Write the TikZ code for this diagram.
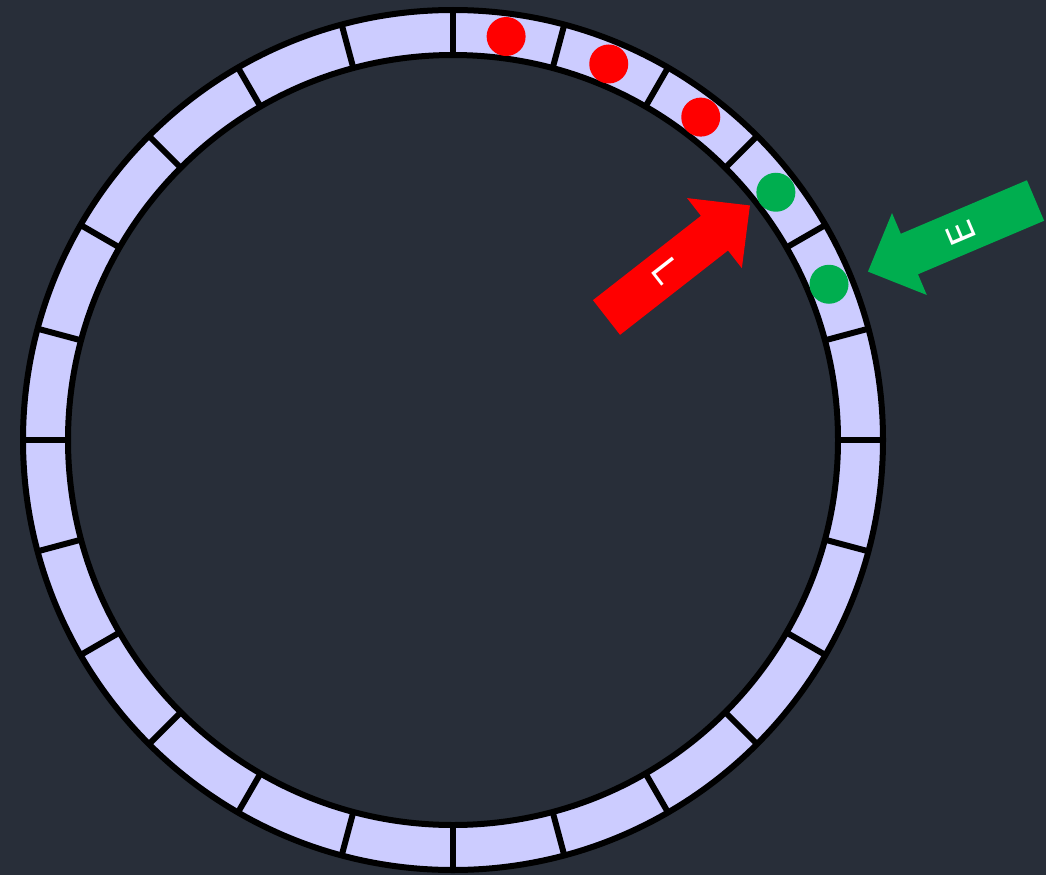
\documentclass[tikz,border=0pt]{standalone}
\usepackage{fontspec}
\setmainfont{DejaVu Sans}
\begin{document}
\begin{tikzpicture}[x=1pt,y=-1pt,
  ringfill/.style={fill={rgb,255:red,204;green,204;blue,255}},
  edge/.style={draw=black,line width=6pt},
  divider/.style={draw=black,line width=6pt},
  dotred/.style={circle,fill=red,minimum size=39pt,inner sep=0pt},
  dotgreen/.style={circle,fill=arrowgreen,minimum size=39pt,inner sep=0pt},
  lbl/.style={text=white,inner sep=0pt}]
\definecolor{bg}{HTML}{282E39}
\definecolor{arrowgreen}{HTML}{00AE4F}
\fill[bg] (0,0) rectangle (1046,875);
\useasboundingbox (0,0) rectangle (1046,875);
\coordinate (c) at (453,440);
% ring
\fill[ringfill,even odd rule] (c) circle[radius=430] (c) circle[radius=385];
\foreach \a in {0,15,...,345}
  \draw[divider] ([shift={(\a:385)}]c) -- ([shift={(\a:430)}]c);
\draw[edge] (c) circle[radius=430];
\draw[edge] (c) circle[radius=385];
% dots
\node[dotred] (r1) at ([shift={(-82.5:407)}]c) {};
\node[dotred] (r2) at ([shift={(-67.5:407)}]c) {};
\node[dotred] (r3) at ([shift={(-52.5:407)}]c) {};
\node[dotgreen] (g1) at ([shift={(-37.5:407)}]c) {};
\node[dotgreen] (g2) at ([shift={(-22.5:407)}]c) {};
% red arrow L
\begin{scope}[shift={(606.5,317.5)},rotate=38]
  \fill[red] (0,-22) -- (137,-22) -- (137,-44.5) -- (182,0) -- (137,44.5) -- (137,22) -- (0,22) -- cycle;
\end{scope}
\node[lbl,rotate=-52,scale=1.5] (lL) at (666,270) {\fontsize{24}{24}\selectfont L};
% green arrow E
\begin{scope}[shift={(1035.5,200.5)},rotate=203]
  \fill[arrowgreen] (0,-22) -- (137,-22) -- (137,-44.5) -- (182,0) -- (137,44.5) -- (137,22) -- (0,22) -- cycle;
\end{scope}
\node[lbl,rotate=113,scale=1.5] (lE) at (961,233) {\fontsize{24}{24}\selectfont E};
\end{tikzpicture}
\end{document}
